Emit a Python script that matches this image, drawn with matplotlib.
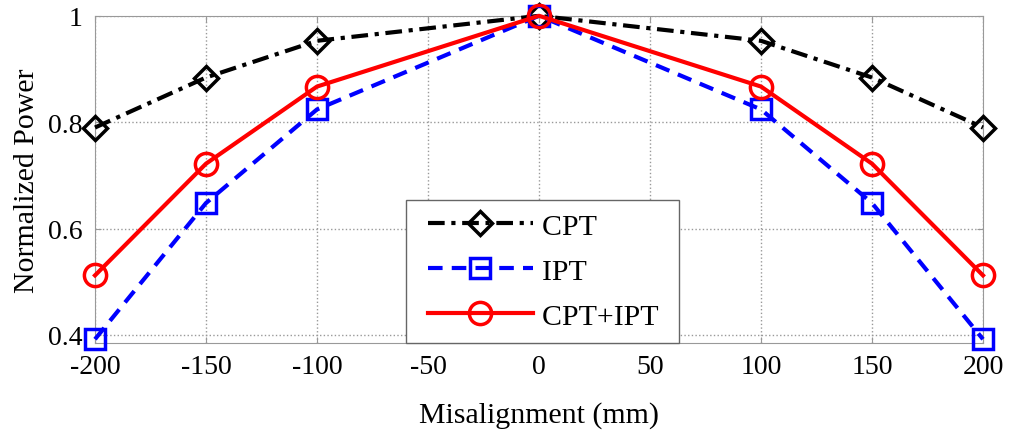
import matplotlib
matplotlib.use('Agg')
import matplotlib.pyplot as plt
from matplotlib.legend_handler import HandlerLine2D

misalignment = [-200, -150, -100, 0, 100, 150, 200]
cpt = [0.79, 0.884, 0.953, 1.0, 0.953, 0.884, 0.79]
ipt = [0.392, 0.648, 0.824, 1.0, 0.824, 0.648, 0.392]
cpt_ipt = [0.512, 0.722, 0.867, 1.0, 0.867, 0.722, 0.512]

plt.rcParams['font.family'] = ['Liberation Serif', 'DejaVu Serif']
plt.rcParams['axes.unicode_minus'] = False

fig = plt.figure(figsize=(10.16, 4.31), dpi=100)
ax = fig.add_axes([0.0935, 0.202, 0.874, 0.759])

l1, = ax.plot(misalignment, cpt, color='black', linestyle=(0, (4, 1.6, 1, 1.6)), linewidth=3,
              marker='D', markersize=12, markerfacecolor='none', markeredgewidth=2.5,
              label='CPT', zorder=3, clip_on=False)
l2, = ax.plot(misalignment, ipt, color='blue', linestyle=(0, (3.5, 2.2)), linewidth=3,
              marker='s', markersize=14, markerfacecolor='none', markeredgewidth=2.5,
              label='IPT', zorder=3, clip_on=False)
l3, = ax.plot(misalignment, cpt_ipt, color='red', linestyle='-', linewidth=3,
              marker='o', markersize=16, markerfacecolor='none', markeredgewidth=2.5,
              label='CPT+IPT', zorder=4, clip_on=False)

ax.set_xlim(-200, 200)
ax.set_ylim(0.385, 1.0)
ax.set_xticks([-200, -150, -100, -50, 0, 50, 100, 150, 200])
ax.set_yticks([0.4, 0.6, 0.8, 1.0])
ax.set_yticklabels(['0.4', '0.6', '0.8', '1'])
ax.grid(True, color='#999999', linestyle=':', linewidth=1)
for s in ax.spines.values():
    s.set_color('#999999')
ax.tick_params(axis='both', labelsize=20, direction='in', length=4, color='#999999',
               top=True, right=True)
ax.tick_params(axis='x', pad=8)
ax.tick_params(axis='y', pad=9)
ax.set_xlabel('Misalignment (mm)', fontsize=21.5, labelpad=16)
ax.set_ylabel('Normalized Power', fontsize=21.5, labelpad=6)

hmap = {l: HandlerLine2D(xpad=0.3) for l in (l1, l2, l3)}
leg = ax.legend([l1, l2, l3], ['CPT ', 'IPT ', 'CPT+IPT '], handler_map=hmap,
                loc='lower left', bbox_to_anchor=(0.35, 0.0), fontsize=21.5,
                frameon=True, fancybox=False, edgecolor='#666666', handlelength=3.8,
                borderpad=0.45, labelspacing=0.6, handletextpad=0.3,
                borderaxespad=0.0, framealpha=1)
leg.get_frame().set_linewidth(1)
leg.set_zorder(5)

fig.savefig('out.png', dpi=100, facecolor='white')
